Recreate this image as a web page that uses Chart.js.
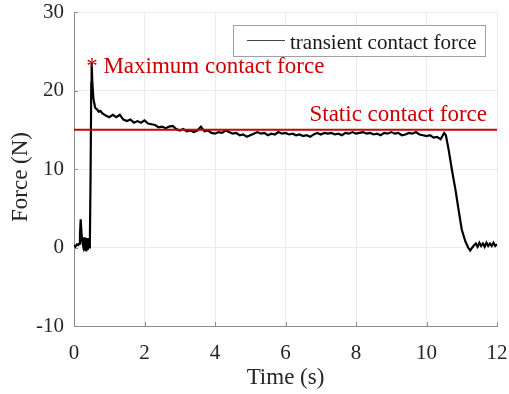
<!DOCTYPE html>
<html>
<head>
<meta charset="utf-8">
<script src="https://cdn.jsdelivr.net/npm/chart.js@4/dist/chart.umd.min.js"></script>
<style>
  html, body { margin: 0; padding: 0; background: #ffffff; }
  #wrap { width: 509px; height: 394px; position: relative; }
</style>
</head>
<body>
<div id="wrap"><canvas id="c"></canvas></div>
<script>
// Measured contact force during a grasp (time in s, force in N)
const time = [
  0, 0.04, 0.08, 0.12, 0.15, 0.17, 0.19, 0.21, 0.23, 0.26, 0.29, 0.31, 0.33, 0.35, 0.37, 0.39, 0.41, 0.43, 0.45, 0.47, 0.49, 0.5,
  0.52, 0.55, 0.6, 0.65, 0.7, 0.75,
  0.8, 0.9, 1.0, 1.1, 1.2, 1.3, 1.4, 1.5, 1.6, 1.7, 1.8, 1.9,
  2.0, 2.1, 2.2, 2.3, 2.4, 2.5, 2.6, 2.7, 2.8, 2.9,
  3.0, 3.1, 3.2, 3.3, 3.4, 3.5, 3.6, 3.7, 3.8, 3.9,
  4.0, 4.1, 4.2, 4.3, 4.4, 4.5, 4.6, 4.7, 4.8, 4.9,
  5.0, 5.1, 5.2, 5.3, 5.4, 5.5, 5.6, 5.7, 5.8, 5.9,
  6.0, 6.1, 6.2, 6.3, 6.4, 6.5, 6.6, 6.7, 6.8, 6.9,
  7.0, 7.1, 7.2, 7.3, 7.4, 7.5, 7.6, 7.7, 7.8, 7.9,
  8.0, 8.1, 8.2, 8.3, 8.4, 8.5, 8.6, 8.7, 8.8, 8.9,
  9.0, 9.1, 9.2, 9.3, 9.4, 9.5, 9.6, 9.7, 9.8, 9.9,
  10.0, 10.1, 10.2, 10.3, 10.4, 10.5,
  10.55, 10.63, 10.72, 10.82, 10.91, 11.0, 11.1, 11.18, 11.24, 11.3, 11.35,
  11.4, 11.45, 11.5, 11.55, 11.6, 11.65, 11.7, 11.75, 11.8, 11.85, 11.9, 11.95, 12.0
];
const force = [
  0.3, 0.1, 0.4, 0.3, 0.5, 1.6, 3.6, 2.0, 0.9, 0.2, 1.3, -0.4, 1.1, -0.5, 1.2, -0.3, 1.0, 0.0, 0.7, 9.0, 21.0, 23.5,
  21.0, 19.0, 17.8, 17.6, 17.3, 17.4,
  17.1, 16.8, 16.6, 16.9, 16.6, 16.9, 16.3, 16.1, 16.3, 15.9, 16.1, 15.9,
  16.2, 15.8, 15.7, 15.6, 15.3, 15.4, 15.2, 15.4, 15.5, 15.1,
  14.9, 15.1, 14.8, 14.9, 14.7, 14.9, 15.4, 14.8, 14.9, 14.6,
  14.5, 14.7, 14.6, 14.9, 14.7, 14.5, 14.6, 14.3, 14.4, 14.1,
  14.3, 14.5, 14.7, 14.5, 14.6, 14.3, 14.5, 14.4, 14.7, 14.5,
  14.6, 14.4, 14.5, 14.3, 14.4, 14.2, 14.3, 14.1, 14.4, 14.6,
  14.4, 14.6, 14.5, 14.6, 14.4, 14.5, 14.3, 14.6, 14.5, 14.7,
  14.5, 14.6, 14.7, 14.5, 14.6, 14.4, 14.5, 14.3, 14.6, 14.5,
  14.7, 14.5, 14.6, 14.3, 14.4, 14.6, 14.5, 14.7, 14.4, 14.3,
  14.2, 14.3, 14.0, 14.1, 13.8, 14.6,
  14.3, 12.4, 9.9, 7.4, 4.8, 2.3, 0.8, 0.0, -0.4, 0.0, 0.3,
  0.5, 0.1, 0.6, 0.2, 0.5, 0.1, 0.6, 0.2, 0.5, 0.2, 0.6, 0.2, 0.4
];

// Static (steady-state) contact force level, N
const staticForce = 15;
const staticSpan = [0, 12];

const xTicks = [0, 2, 4, 6, 8, 10, 12];
const yTicks = [-10, 0, 10, 20, 30];

const legendLabel = 'transient contact force';
const staticLabel = 'Static contact force';
const maxLabel = '* Maximum contact force';
const yTitle = 'Force (N)';

const SERIF = '"Liberation Serif", "Times New Roman", serif';
const RED = '#cc0000';
const TEXT = '#262626';

const forcePoints = time.map((t, i) => ({ x: t, y: force[i] }));
const staticPoints = staticSpan.map(t => ({ x: t, y: staticForce }));

// peak of the transient curve
let peakIdx = 0;
force.forEach((v, i) => { if (v > force[peakIdx]) peakIdx = i; });

const annotate = {
  id: 'annotate',
  afterDatasetsDraw(chart) {
    const { ctx, chartArea: a, scales: { x, y } } = chart;
    ctx.save();

    // inward tick marks
    ctx.strokeStyle = '#8c8c8c';
    ctx.lineWidth = 1;
    ctx.beginPath();
    xTicks.forEach(v => {
      const px = Math.round(x.getPixelForValue(v)) + 0.5;
      ctx.moveTo(px, a.bottom); ctx.lineTo(px, a.bottom - 4);
    });
    yTicks.forEach(v => {
      const py = Math.round(y.getPixelForValue(v)) + 0.5;
      ctx.moveTo(a.left, py); ctx.lineTo(a.left + 4, py);
    });
    ctx.stroke();

    // y axis title, rotated
    ctx.save();
    ctx.translate(21, (a.top + a.bottom) / 2 + 8);
    ctx.rotate(-Math.PI / 2);
    ctx.fillStyle = TEXT;
    ctx.font = '23px ' + SERIF;
    ctx.textAlign = 'center';
    ctx.textBaseline = 'middle';
    ctx.fillText(yTitle, 0, 0);
    ctx.restore();

    // static force label
    ctx.fillStyle = RED;
    ctx.font = '23px ' + SERIF;
    ctx.textAlign = 'right';
    ctx.textBaseline = 'alphabetic';
    ctx.fillText(staticLabel, x.getPixelForValue(12) - 10, y.getPixelForValue(staticForce) - 9);

    // maximum force marker + label
    const px = x.getPixelForValue(time[peakIdx]);
    const py = y.getPixelForValue(force[peakIdx]);
    ctx.textAlign = 'left';
    ctx.fillText(maxLabel, px - 5.5, py + 10);

    // legend box
    const lx = a.right - 264, ly = a.top + 13, lw = 252, lh = 31;
    ctx.fillStyle = '#ffffff';
    ctx.fillRect(lx, ly, lw, lh);
    ctx.strokeStyle = '#a0a0a0';
    ctx.strokeRect(lx + 0.5, ly + 0.5, lw, lh);
    ctx.strokeStyle = '#444444';
    ctx.beginPath();
    ctx.moveTo(lx + 14, ly + 15.5); ctx.lineTo(lx + 52, ly + 15.5);
    ctx.stroke();
    ctx.fillStyle = '#1a1a1a';
    ctx.font = '21px ' + SERIF;
    ctx.fillText(legendLabel, lx + 57, ly + 24);

    ctx.restore();
  }
};

new Chart(document.getElementById('c'), {
  type: 'line',
  data: {
    datasets: [
      {
        label: staticLabel,
        data: staticPoints,
        borderColor: RED,
        borderWidth: 2,
        pointRadius: 0,
        order: 0
      },
      {
        label: legendLabel,
        data: forcePoints,
        borderColor: '#000000',
        borderWidth: 2.2,
        pointRadius: 0,
        tension: 0,
        order: 1
      }
    ]
  },
  options: {
    responsive: true,
    maintainAspectRatio: false,
    animation: false,
    devicePixelRatio: 1,
    layout: { padding: { top: 12, right: 12, left: 0, bottom: 0 } },
    plugins: { legend: { display: false }, tooltip: { enabled: false } },
    scales: {
      x: {
        type: 'linear',
        min: 0, max: 12,
        afterBuildTicks: s => { s.ticks = xTicks.map(v => ({ value: v })); },
        afterFit: s => { s.height = 68; s.paddingLeft = 0; s.paddingRight = 0; },
        ticks: { font: { family: SERIF, size: 21 }, color: TEXT, padding: 15, maxRotation: 0 },
        grid: { color: '#ebebeb', drawTicks: false },
        border: { color: '#8c8c8c', width: 1 },
        title: { display: true, text: 'Time (s)', font: { family: SERIF, size: 23 }, color: TEXT, padding: { top: 0, bottom: 2 } }
      },
      y: {
        type: 'linear',
        min: -10, max: 30,
        afterBuildTicks: s => { s.ticks = yTicks.map(v => ({ value: v })); },
        afterFit: s => { s.width = 74; s.paddingTop = 0; s.paddingBottom = 0; },
        ticks: { font: { family: SERIF, size: 21 }, color: TEXT, padding: 10 },
        grid: { color: '#ebebeb', drawTicks: false },
        border: { color: '#8c8c8c', width: 1 },
        title: { display: false }
      }
    }
  },
  plugins: [annotate]
});
</script>
</body>
</html>
